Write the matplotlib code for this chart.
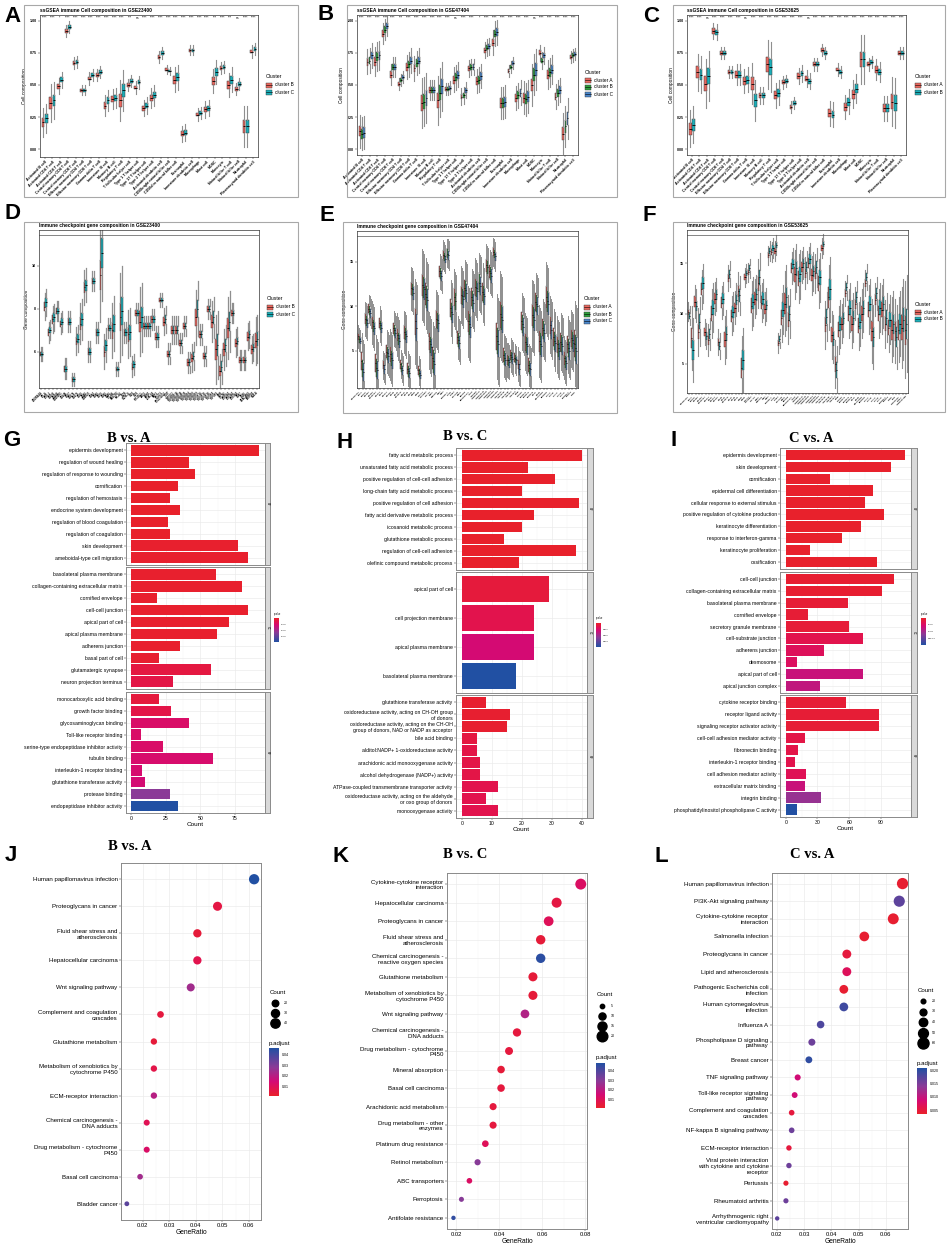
import numpy as np
import matplotlib
matplotlib.use('Agg')
import matplotlib.pyplot as plt
from matplotlib.patches import Rectangle
from matplotlib.colors import LinearSegmentedColormap, Normalize
from matplotlib.cm import ScalarMappable

plt.rcParams['font.family'] = ['Liberation Sans', 'DejaVu Sans']

# ---------------- data: ssGSEA immune cells (A, B, C) ----------------
cells = ['Activated B cell', 'Activated CD4 T cell', 'Activated CD8 T cell',
         'Central memory CD4 T cell', 'Central memory CD8 T cell',
         'Effector memeory CD4 T cell', 'Effector memeory CD8 T cell',
         'Gamma delta T cell', 'Immature  B cell', 'Memory B cell',
         'Regulatory T cell', 'T follicular helper cell', 'Type 1 T helper cell',
         'Type 17 T helper cell', 'Type 2 T helper cell', 'Activated dendritic cell',
         'CD56bright natural killer cell', 'CD56dim natural killer cell', 'Eosinophil',
         'Immature dendritic cell', 'Macrophage', 'Mast cell', 'MDSC', 'Monocyte',
         'Natural killer T cell', 'Natural killer cell', 'Neutrophil',
         'Plasmacytoid dendritic cell']

a_b = [0.21, 0.36, 0.49, 0.92, 0.67, 0.46, 0.55, 0.58, 0.34, 0.39, 0.38, 0.50, 0.48, 0.32,
       0.40, 0.72, 0.62, 0.54, 0.12, 0.77, 0.27, 0.31, 0.53, 0.63, 0.50, 0.47, 0.18, 0.76]
a_c = [0.24, 0.38, 0.54, 0.95, 0.68, 0.46, 0.58, 0.60, 0.38, 0.40, 0.46, 0.53, 0.52, 0.34,
       0.42, 0.75, 0.61, 0.56, 0.13, 0.77, 0.28, 0.32, 0.60, 0.64, 0.54, 0.51, 0.18, 0.78]
a_iqr = [0.07, 0.09, 0.04, 0.03, 0.03, 0.025, 0.03, 0.03, 0.05, 0.05, 0.1, 0.03, 0.03, 0.04,
         0.05, 0.03, 0.02, 0.06, 0.04, 0.025, 0.03, 0.04, 0.06, 0.03, 0.06, 0.03, 0.1, 0.03]
a_sig = ['****', '****', '*', '****', '****', '****', '****', '****', '****', '****', '****',
         '***', 'ns', '****', '****', '****', '****', '****', '****', '****', '****', '****',
         '***', '****', '***', 'ns', '****', '****']

b_a = [0.14, 0.68, 0.68, 0.90, 0.58, 0.51, 0.64, 0.63, 0.36, 0.46, 0.38, 0.47, 0.54, 0.41,
       0.63, 0.53, 0.77, 0.83, 0.36, 0.61, 0.40, 0.40, 0.50, 0.75, 0.58, 0.41, 0.12, 0.72]
b_b = [0.12, 0.69, 0.72, 0.93, 0.64, 0.54, 0.66, 0.67, 0.37, 0.46, 0.44, 0.47, 0.56, 0.42,
       0.64, 0.54, 0.79, 0.90, 0.36, 0.64, 0.42, 0.39, 0.58, 0.69, 0.60, 0.44, 0.18, 0.73]
b_c = [0.13, 0.73, 0.73, 0.96, 0.64, 0.56, 0.69, 0.69, 0.40, 0.46, 0.49, 0.48, 0.58, 0.46,
       0.64, 0.57, 0.80, 0.91, 0.37, 0.67, 0.44, 0.41, 0.62, 0.73, 0.62, 0.46, 0.24, 0.74]
b_iqr = [0.08, 0.06, 0.07, 0.05, 0.05, 0.03, 0.06, 0.06, 0.12, 0.05, 0.12, 0.03, 0.06, 0.04,
         0.04, 0.06, 0.04, 0.06, 0.08, 0.03, 0.06, 0.08, 0.1, 0.04, 0.07, 0.06, 0.1, 0.03]
b_sig = ['****', '****', '****', '****', '****', '***', '****', '****', '****', '****', '****',
         '****', 'ns', '****', '****', '*', '****', '****', '****', '****', '****', '****',
         'ns', '****', '****', '****', '****', '****']

c_a = [0.16, 0.60, 0.51, 0.92, 0.75, 0.60, 0.58, 0.53, 0.51, 0.42, 0.66, 0.42, 0.52, 0.33,
       0.57, 0.55, 0.66, 0.77, 0.28, 0.62, 0.33, 0.43, 0.70, 0.66, 0.62, 0.32, 0.37, 0.75]
c_b = [0.19, 0.58, 0.57, 0.91, 0.75, 0.60, 0.58, 0.54, 0.38, 0.42, 0.64, 0.44, 0.53, 0.36,
       0.59, 0.53, 0.66, 0.75, 0.27, 0.60, 0.37, 0.47, 0.70, 0.68, 0.60, 0.32, 0.36, 0.75]
c_iqr = [0.09, 0.09, 0.12, 0.04, 0.03, 0.03, 0.05, 0.06, 0.1, 0.04, 0.12, 0.06, 0.03, 0.03,
         0.04, 0.04, 0.03, 0.03, 0.06, 0.03, 0.06, 0.07, 0.12, 0.03, 0.05, 0.06, 0.12, 0.03]
c_sig = ['****', '****', 'ns', '****', '****', '****', '****', 'ns', '****', '****', '****',
         '****', '****', '****', '****', 'ns', '****', '****', '****', '****', '****', '****',
         '****', '****', '****', '****', '****', '****']

# ---------------- data: immune checkpoint genes (D, E, F) ----------------
icg_genes = ['ADORA2A', 'BTLA', 'BTNL2', 'CD160', 'CD200', 'CD200R1', 'CD244', 'CD27', 'CD274',
             'CD276', 'CD28', 'CD40', 'CD40LG', 'CD44', 'CD48', 'CD70', 'CD80', 'CD86', 'CTLA4',
             'HAVCR2', 'HHLA2', 'ICOS', 'ICOSLG', 'IDO1', 'IDO2', 'KIR3DL1', 'LAG3', 'LAIR1',
             'LGALS9', 'NRP1', 'PDCD1', 'PDCD1LG2', 'TIGIT', 'TMIGD2', 'TNFRSF14', 'TNFRSF18',
             'TNFRSF25', 'TNFRSF4', 'TNFRSF8', 'TNFRSF9', 'TNFSF14', 'TNFSF15', 'TNFSF18',
             'TNFSF4', 'TNFSF9', 'VSIR', 'VTCN1', 'BTN2A1', 'BTN3A1', 'BTN3A2', 'CD47', 'CD96',
             'CEACAM1', 'ENTPD1', 'HLA-A', 'HLA-B', 'HLA-C', 'HLA-E', 'HLA-G', 'KIR2DL1',
             'KLRC1', 'NT5E', 'PVR', 'SIGLEC15', 'SIRPA', 'TNFRSF13B']

d_b = [5.9, 8.1, 6.9, 7.5, 7.9, 7.3, 5.2, 7.4, 4.7, 6.5, 7.3, 9.0, 6.0, 9.3, 6.9, 9.6, 6.0, 7.1,
       7.0, 5.2, 7.6, 6.9, 6.8, 5.3, 7.8, 7.4, 7.2, 7.2, 7.5, 6.7, 8.4, 7.4, 5.9, 7.0, 7.0, 6.4,
       7.2, 5.5, 5.7, 7.6, 6.8, 5.8, 8.0, 7.4, 6.1, 5.1, 6.1, 7.1, 7.8, 6.4, 5.6, 5.6, 6.7, 6.1, 6.5]
d_c = [5.9, 8.3, 7.0, 7.6, 7.9, 7.4, 5.2, 7.4, 4.7, 6.6, 7.5, 9.1, 6.0, 9.3, 6.9, 10.6, 6.3, 7.1,
       7.3, 5.2, 7.9, 6.9, 6.9, 5.4, 7.8, 7.6, 7.2, 7.2, 7.5, 6.7, 8.4, 7.5, 5.9, 7.0, 7.0, 6.4,
       7.2, 5.5, 5.8, 8.0, 6.8, 5.8, 8.0, 7.6, 6.3, 5.3, 6.3, 7.4, 7.8, 6.5, 5.6, 5.6, 6.8, 6.2, 6.6]
d_iqr = [0.2, 0.4, 0.3, 0.4, 0.3, 0.3, 0.3, 0.3, 0.2, 0.4, 0.6, 0.5, 0.3, 0.3, 0.3, 1.4, 0.5, 0.3,
         0.8, 0.2, 1.3, 0.3, 0.7, 0.3, 0.3, 1.0, 0.3, 0.3, 0.3, 0.3, 0.2, 0.4, 0.3, 0.4, 0.4, 0.3,
         0.3, 0.3, 0.4, 0.8, 0.3, 0.3, 0.3, 0.6, 1.0, 0.5, 0.6, 0.9, 0.3, 0.4, 0.3, 0.3, 0.4, 0.4, 0.7]

e_a = [6.6, 3.8, 8.6, 9.7, 8.2, 3.6, 8.1, 3.4, 4.9, 4.6, 7.5, 6.8, 3.5, 7.1, 3.0, 12.0, 8.3, 2.8,
       12.4, 11.4, 6.1, 4.2, 8.6, 13.9, 15.8, 16.0, 9.8, 11.0, 6.5, 11.3, 12.0, 8.3, 11.0, 12.2,
       12.8, 11.6, 14.6, 13.9, 16.1, 6.6, 9.1, 4.5, 4.0, 4.5, 4.2, 3.5, 8.3, 6.0, 3.4, 9.0, 10.5,
       6.1, 7.6, 11.0, 7.9, 6.5, 5.7, 6.0, 4.2, 5.7, 6.4, 5.8]
e_b = [6.3, 3.0, 8.4, 9.5, 7.8, 3.1, 7.9, 3.1, 4.7, 4.2, 7.3, 6.4, 3.1, 6.9, 2.7, 11.9, 7.9, 2.5,
       12.2, 11.0, 5.7, 3.8, 8.4, 13.7, 15.6, 15.9, 9.4, 10.6, 6.2, 11.1, 11.8, 8.0, 10.7, 12.0,
       12.6, 11.4, 14.4, 13.7, 15.9, 6.1, 8.8, 4.2, 3.9, 4.3, 4.1, 3.1, 8.0, 5.7, 3.1, 8.8, 10.3,
       5.8, 7.3, 10.6, 7.6, 6.1, 5.3, 5.8, 3.8, 5.3, 6.2, 5.3]
e_c = [6.1, 2.6, 8.1, 9.2, 7.5, 2.8, 7.6, 2.9, 4.4, 3.9, 7.0, 6.1, 2.8, 6.6, 2.5, 11.5, 7.6, 2.3,
       11.9, 10.7, 5.4, 3.5, 8.1, 13.4, 15.3, 15.7, 9.1, 10.3, 5.9, 10.8, 11.5, 7.7, 10.4, 11.7,
       12.3, 11.1, 14.1, 13.4, 15.6, 5.8, 8.5, 4.0, 3.7, 4.1, 3.9, 2.9, 7.7, 5.5, 2.9, 8.5, 10.0,
       5.5, 7.0, 10.3, 7.3, 5.9, 5.0, 5.5, 3.6, 5.0, 5.9, 5.0]
e_iqr = [0.8, 2.0, 1.2, 1.0, 1.5, 2.0, 1.2, 1.0, 1.5, 1.8, 1.2, 1.5, 1.0, 1.5, 1.2, 1.5, 3.0, 1.0,
         2.5, 2.5, 2.0, 2.5, 2.0, 1.2, 1.0, 1.0, 2.0, 2.0, 1.5, 2.0, 2.0, 2.5, 2.0, 2.0, 2.0, 2.0,
         1.5, 1.5, 1.0, 3.0, 3.0, 1.5, 1.2, 1.2, 1.0, 1.2, 2.0, 2.0, 1.5, 2.5, 2.0, 2.5, 2.0, 2.5,
         2.0, 2.0, 2.0, 2.0, 1.5, 2.0, 2.0, 3.0]

f_a = [10.2, 7.6, 11.2, 8.2, 12.4, 8.2, 7.4, 10.0, 11.5, 7.2, 11.1, 7.4, 13.5, 9.8, 10.6, 12.2,
       4.6, 13.6, 14.1, 10.8, 11.5, 13.0, 11.1, 10.5, 15.8, 16.1, 16.2, 7.1, 9.6, 11.0, 9.4, 14.5,
       13.9, 13.5, 14.6, 14.0, 15.0, 13.8, 14.0, 13.0, 16.5, 8.9, 11.6, 7.9, 5.0, 8.4, 9.0, 12.0,
       10.0, 9.0, 11.0, 8.8, 10.0, 13.0, 10.4, 8.3, 11.4, 10.0, 10.4, 9.0, 8.6, 8.4, 8.3, 8.4, 8.6, 8.4]
f_b = [9.8, 6.4, 10.8, 9.2, 13.0, 7.8, 8.0, 10.6, 11.9, 6.8, 11.5, 8.0, 13.9, 10.2, 11.4, 11.8,
       5.4, 14.0, 14.5, 11.2, 11.9, 13.6, 11.5, 10.9, 16.2, 16.5, 16.8, 7.5, 10.4, 11.6, 10.0, 14.9,
       14.5, 13.9, 15.0, 14.6, 15.4, 14.2, 14.6, 13.6, 16.9, 9.7, 12.4, 7.5, 4.4, 9.0, 9.6, 12.6,
       10.6, 9.6, 11.6, 9.2, 10.6, 13.6, 11.0, 7.7, 12.0, 10.6, 11.0, 9.6, 9.4, 9.0, 7.7, 9.0, 9.4, 9.0]
f_iqr = [0.6, 2.0, 1.0, 1.5, 1.2, 0.8, 1.0, 1.5, 1.0, 0.8, 1.0, 1.5, 0.8, 1.2, 1.0, 1.2, 2.0, 0.6,
         0.6, 1.5, 1.2, 1.5, 1.2, 1.0, 0.6, 0.6, 0.6, 0.6, 1.5, 2.0, 1.5, 1.0, 1.5, 1.5, 1.0, 1.0,
         1.0, 1.2, 1.2, 1.5, 0.6, 1.5, 2.0, 1.5, 1.5, 1.5, 1.2, 0.8, 1.5, 1.5, 1.0, 1.5, 1.5, 0.8,
         1.5, 2.0, 1.0, 1.5, 1.5, 1.5, 1.5, 2.0, 2.0, 2.0, 2.5, 3.0]

# ---------------- data: GO enrichment (G, H, I) ----------------
g_terms = ['epidermis development', 'regulation of wound healing', 'regulation of response to wounding',
           'cornification', 'regulation of hemostasis', 'endocrine system development',
           'regulation of blood coagulation', 'regulation of coagulation', 'skin development',
           'ameboidal-type cell migration',
           'basolateral plasma membrane', 'collagen-containing extracellular matrix', 'cornified envelope',
           'cell-cell junction', 'apical part of cell', 'apical plasma membrane', 'adherens junction',
           'basal part of cell', 'glutamatergic synapse', 'neuron projection terminus',
           'monocarboxylic acid binding', 'growth factor binding', 'glycosaminoglycan binding',
           'Toll-like receptor binding', 'serine-type endopeptidase inhibitor activity', 'tubulin binding',
           'interleukin-1 receptor binding', 'glutathione transferase activity', 'protease binding',
           'endopeptidase inhibitor activity']
g_count = [92, 42, 46, 34, 28, 35, 27, 28, 77, 84,
           61, 80, 19, 84, 71, 62, 35, 20, 58, 30,
           20, 29, 42, 7, 23, 59, 8, 10, 28, 34]
g_pval = [1e-9, 1e-9, 1e-9, 1e-9, 1e-9, 1e-9, 1e-9, 1e-9, 5e-7, 5e-7,
          5e-7, 5e-7, 5e-7, 5e-7, 5e-7, 5e-7, 5e-7, 1e-6, 3.8e-6, 4.6e-6,
          3e-6, 4.9e-6, 9.5e-6, 9.5e-6, 9.5e-6, 1.03e-5, 1.06e-5, 1.14e-5, 2.28e-5, 3.8e-5]
g_sizes = [10, 10, 10]

h_terms = ['fatty acid metabolic process', 'unsaturated fatty acid metabolic process',
           'positive regulation of cell-cell adhesion', 'long-chain fatty acid metabolic process',
           'positive regulation of cell adhesion', 'fatty acid derivative metabolic process',
           'icosanoid metabolic process', 'glutathione metabolic process',
           'regulation of cell-cell adhesion', 'olefinic compound metabolic process',
           'apical part of cell', 'cell projection membrane', 'apical plasma membrane',
           'basolateral plasma membrane',
           'glutathione transferase activity',
           'oxidoreductase activity, acting on CH-OH group\nof donors',
           'oxidoreductase activity, acting on the CH-OH\ngroup of donors, NAD or NADP as acceptor',
           'bile acid binding', 'alditol:NADP+ 1-oxidoreductase activity',
           'arachidonic acid monooxygenase activity', 'alcohol dehydrogenase (NADP+) activity',
           'ATPase-coupled transmembrane transporter activity',
           'oxidoreductase activity, acting on the aldehyde\nor oxo group of donors',
           'monooxygenase activity']
h_count = [40, 22, 31, 20, 39, 24, 20, 14, 38, 19,
           29, 24, 24, 18,
           8, 16, 15, 5, 5, 6, 6, 12, 8, 12]
h_pval = [1e-5, 1e-5, 1e-5, 1e-5, 1e-5, 1e-5, 1e-5, 1e-5, 1e-5, 1e-5,
          3e-4, 6e-4, 1.2e-3, 4e-3,
          1e-4, 1e-4, 1e-4, 4e-4, 5e-4, 5e-4, 5e-4, 6e-4, 6e-4, 6e-4]
h_sizes = [10, 4, 10]

i_terms = ['epidermis development', 'skin development', 'cornification',
           'epidermal cell differentiation', 'cellular response to external stimulus',
           'positive regulation of cytokine production', 'keratinocyte differentiation',
           'response to interferon-gamma', 'keratinocyte proliferation', 'ossification',
           'cell-cell junction', 'collagen-containing extracellular matrix',
           'basolateral plasma membrane', 'cornified envelope', 'secretory granule membrane',
           'cell-substrate junction', 'adherens junction', 'desmosome', 'apical part of cell',
           'apical junction complex',
           'cytokine receptor binding', 'receptor ligand activity',
           'signaling receptor activator activity', 'cell-cell adhesion mediator activity',
           'fibronectin binding', 'interleukin-1 receptor binding', 'cell adhesion mediator activity',
           'extracellular matrix binding', 'integrin binding',
           'phosphatidylinositol phospholipase C activity']
i_count = [113, 99, 42, 82, 75, 93, 71, 53, 23, 86,
           102, 91, 59, 21, 60, 73, 36, 11, 73, 32,
           57, 88, 88, 18, 12, 9, 19, 18, 33, 11]
i_pval = [1e-6, 1e-6, 1e-6, 1e-6, 1e-6, 1e-6, 1e-6, 1e-6, 1e-6, 1e-6,
          6e-6, 6e-6, 1e-5, 1e-5, 1.2e-5, 3e-5, 4e-5, 4.4e-5, 7e-5, 7.6e-5,
          1e-5, 1e-5, 1e-5, 2.4e-5, 2.6e-5, 3e-5, 3.6e-5, 7e-5, 1.1e-4, 2e-4]
i_sizes = [10, 10, 10]

# ---------------- data: KEGG enrichment (J, K, L) ----------------
j_terms = ['Human papillomavirus infection', 'Proteoglycans in cancer',
           'Fluid shear stress and\natherosclerosis', 'Hepatocellular carcinoma',
           'Wnt signaling pathway', 'Complement and coagulation\ncascades', 'Glutathione metabolism',
           'Metabolism of xenobiotics by\ncytochrome P450', 'ECM-receptor interaction',
           'Chemical carcinogenesis -\nDNA adducts', 'Drug metabolism - cytochrome\nP450',
           'Basal cell carcinoma', 'Bladder cancer']
j_ratio = [0.0620, 0.0482, 0.0406, 0.0406, 0.0381, 0.0267, 0.0242, 0.0242, 0.0242, 0.0215,
           0.0215, 0.0190, 0.0140]
j_count = [49, 38, 32, 32, 30, 21, 19, 19, 19, 17, 17, 15, 11]
j_padj = [0.046, 0.006, 0.004, 0.008, 0.024, 0.005, 0.004, 0.007, 0.020, 0.009, 0.012, 0.024, 0.036]

k_terms = ['Cytokine-cytokine receptor\ninteraction', 'Hepatocellular carcinoma',
           'Proteoglycans in cancer', 'Fluid shear stress and\natherosclerosis',
           'Chemical carcinogenesis -\nreactive oxygen species', 'Glutathione metabolism',
           'Metabolism of xenobiotics by\ncytochrome P450', 'Wnt signaling pathway',
           'Chemical carcinogenesis -\nDNA adducts', 'Drug metabolism - cytochrome\nP450',
           'Mineral absorption', 'Basal cell carcinoma', 'Arachidonic acid metabolism',
           'Drug metabolism - other\nenzymes', 'Platinum drug resistance', 'Retinol metabolism',
           'ABC transporters', 'Ferroptosis', 'Antifolate resistance']
k_ratio = [0.0779, 0.0667, 0.0630, 0.0593, 0.0593, 0.0557, 0.0557, 0.0520, 0.0483, 0.0446,
           0.0409, 0.0409, 0.0372, 0.0372, 0.0336, 0.0300, 0.0262, 0.0225, 0.0188]
k_count = [21, 18, 17, 16, 16, 15, 15, 14, 13, 12, 11, 11, 10, 10, 9, 8, 7, 6, 5]
k_padj = [0.012, 0.006, 0.010, 0.004, 0.046, 0.004, 0.004, 0.022, 0.005, 0.005, 0.004, 0.005,
          0.005, 0.005, 0.010, 0.030, 0.012, 0.030, 0.045]

l_terms = ['Human papillomavirus infection', 'PI3K-Akt signaling pathway',
           'Cytokine-cytokine receptor\ninteraction', 'Salmonella infection',
           'Proteoglycans in cancer', 'Lipid and atherosclerosis',
           'Pathogenic Escherichia coli\ninfection', 'Human cytomegalovirus\ninfection',
           'Influenza A', 'Phospholipase D signaling\npathway', 'Breast cancer',
           'TNF signaling pathway', 'Toll-like receptor signaling\npathway',
           'Complement and coagulation\ncascades', 'NF-kappa B signaling pathway',
           'ECM-receptor interaction', 'Viral protein interaction\nwith cytokine and cytokine\nreceptor',
           'Pertussis', 'Rheumatoid arthritis', 'Arrhythmogenic right\nventricular cardiomyopathy']
l_ratio = [0.0661, 0.0649, 0.0627, 0.0521, 0.0457, 0.0457, 0.0446, 0.0446, 0.0361, 0.0329,
           0.0318, 0.0277, 0.0266, 0.0255, 0.0255, 0.0245, 0.0245, 0.0234, 0.0234, 0.0202]
l_count = [62, 61, 59, 49, 43, 43, 42, 42, 34, 31, 30, 26, 25, 24, 24, 23, 23, 22, 22, 19]
l_padj = [0.004, 0.017, 0.004, 0.004, 0.005, 0.007, 0.004, 0.019, 0.018, 0.016, 0.020, 0.009,
          0.009, 0.005, 0.016, 0.005, 0.016, 0.004, 0.016, 0.017]

# ---------------- figure ----------------
W, H = 948, 1247
fig = plt.figure(figsize=(W / 100, H / 100), dpi=100)
cmap = LinearSegmentedColormap.from_list(
    'pv', [(0, '#E8212B'), (0.15, '#E2134D'), (0.3, '#D40A74'), (0.6, '#8B3A97'), (1, '#2150A3')])
col2 = ['#E8685F', '#1BAEB8']
col3 = ['#E8685F', '#2E9E3E', '#4B87CB']

# overlay axes in pixel coordinates for letters, frames and legends
ov = fig.add_axes([0, 0, 1, 1], zorder=10)
ov.set_xlim(0, W)
ov.set_ylim(H, 0)
ov.axis('off')


def px_ax(x0, y0, x1, y1):
    return fig.add_axes([x0 / W, 1 - y1 / H, (x1 - x0) / W, (y1 - y0) / H])


def frame(x0, y0, x1, y1):
    ov.add_patch(Rectangle((x0, y0), x1 - x0, y1 - y0, fill=False, edgecolor='#a8a8a8', lw=0.8))


def cluster_legend(x, y, labels, colors):
    ov.text(x, y, 'Cluster', fontsize=3.7, va='center')
    for i, (lab, col) in enumerate(zip(labels, colors)):
        yy = y + 8 + i * 7
        ov.add_patch(Rectangle((x, yy - 2.5), 6, 5, facecolor=col, edgecolor='#333333', lw=0.3))
        ov.plot([x, x + 6], [yy, yy], color='black', lw=0.4)
        ov.text(x + 9, yy, lab, fontsize=3.4, va='center')


def box_panel(box, names, series, iqrs, colors, ylim, yticks, yfmt, title, ylabel,
              sig=None, sig_y=None, line_y=None, xfs=2.6, wfrac=0.9, wl=0.8):
    ax = px_ax(*box)
    n = len(series)
    step = 0.8 / n
    idx = np.arange(len(names))
    for k, (vals, col) in enumerate(zip(series, colors)):
        stats = [dict(med=m, q1=m - q / 2, q3=m + q / 2, whislo=m - 1.6 * q, whishi=m + 1.6 * q)
                 for m, q in zip(vals, iqrs)]
        ax.bxp(stats, positions=idx + (k - (n - 1) / 2) * step, widths=step * wfrac,
               patch_artist=True, showfliers=False, showcaps=False, manage_ticks=False,
               boxprops=dict(facecolor=col, edgecolor='#3a3a3a', linewidth=0.35),
               medianprops=dict(color='black', linewidth=0.6),
               whiskerprops=dict(color='#8f8f8f', linewidth=wl))
    ax.set_xlim(-0.6, len(names) - 0.4)
    ax.set_ylim(*ylim)
    ax.set_yticks(yticks)
    ax.set_yticklabels([yfmt.format(v) for v in yticks], fontsize=2.6, fontweight='bold')
    ax.set_xticks(idx)
    ax.set_xticklabels(names, rotation=45, ha='right', rotation_mode='anchor',
                       fontsize=xfs, fontweight='bold')
    ax.tick_params(length=1.2, width=0.35, pad=0.8, color='#333333')
    for s in ax.spines.values():
        s.set_linewidth(0.5)
        s.set_color('#333333')
    ax.set_ylabel(ylabel, fontsize=3.4, labelpad=2)
    ax.text(0, 1.012, title, transform=ax.transAxes, fontsize=3.5, fontweight='bold', va='bottom')
    if sig is not None:
        for i, s in enumerate(sig):
            ax.text(i, sig_y, s, ha='center', va='center', fontsize=2.4)
    if line_y is not None:
        ax.plot([-0.5, len(names) - 0.5], [line_y, line_y], color='#555555', lw=0.5)
    return ax


def go_panel(x0, x1, sx1, ys, sizes, terms, counts, pvals, vmax, xlim, xticks, cbox, cticks, clabs):
    norm = Normalize(0, vmax)
    start = 0
    for j, ((y0, y1), n, tag) in enumerate(zip(ys, sizes, ['BP', 'CC', 'MF'])):
        ax = px_ax(x0, y0, x1, y1)
        t = terms[start:start + n]
        c = counts[start:start + n]
        p = np.array(pvals[start:start + n])
        start += n
        ypos = np.arange(n)[::-1]
        ax.barh(ypos, c, height=0.9, color=cmap(norm(p)), zorder=2)
        ax.set_ylim(-0.6, n - 0.4)
        ax.set_xlim(*xlim)
        ax.set_yticks(ypos)
        ax.set_yticklabels(t, fontsize=3.7)
        ax.set_xticks(xticks)
        ax.set_xticks([(a + b) / 2 for a, b in zip(xticks[:-1], xticks[1:])], minor=True)
        ax.set_axisbelow(True)
        ax.grid(True, which='major', color='#EBEBEB', lw=0.5)
        ax.grid(True, which='minor', axis='x', color='#F3F3F3', lw=0.3)
        ax.tick_params(length=1.4, width=0.35, pad=1, color='#333333', labelsize=3.7)
        ax.tick_params(which='minor', length=0)
        if j < 2:
            ax.tick_params(axis='x', labelbottom=False, length=0)
        else:
            ax.set_xlabel('Count', fontsize=4.6, labelpad=0.5)
        for s in ax.spines.values():
            s.set_linewidth(0.7)
            s.set_color('#8a8a8a')
        st = px_ax(x1, y0, sx1, y1)
        st.set_facecolor('#D9D9D9')
        st.set_xticks([])
        st.set_yticks([])
        for s in st.spines.values():
            s.set_linewidth(0.7)
            s.set_color('#8a8a8a')
        st.text(0.5, 0.5, tag, rotation=-90, fontsize=1.8, ha='center', va='center',
                transform=st.transAxes)
    cax = px_ax(*cbox)
    cb = fig.colorbar(ScalarMappable(norm=norm, cmap=cmap), cax=cax)
    cb.outline.set_visible(False)
    cax.invert_yaxis()
    cb.set_ticks(cticks)
    cb.set_ticklabels(clabs)
    cax.tick_params(labelsize=1.6, length=1, width=0.3, pad=0.5, color='white')
    ov.text(cbox[0], cbox[1] - 2.5, 'pvalue', fontsize=1.8, va='bottom')


def dot_panel(box, terms, ratio, count, padj, xlim, xticks, xfmt, norm, s_rng,
              leg_x, leg_y, leg_counts, leg_dy, cbox, cticks, cfmt):
    ax = px_ax(*box)
    n = len(terms)
    ypos = np.arange(n)[::-1]
    cmin, cmax = min(count), max(count)

    def s_of(c):
        return s_rng[0] + (np.asarray(c, float) - cmin) / (cmax - cmin) * (s_rng[1] - s_rng[0])

    ax.scatter(ratio, ypos, s=s_of(count), c=padj, cmap=cmap, norm=norm, zorder=3,
               edgecolors='none')
    ax.set_ylim(-0.6, n - 0.4)
    ax.set_xlim(*xlim)
    ax.set_yticks(ypos)
    ax.set_yticklabels(terms, fontsize=4.4)
    ax.set_xticks(xticks)
    ax.set_xticklabels([xfmt.format(v) for v in xticks])
    ax.set_xticks([(a + b) / 2 for a, b in zip(xticks[:-1], xticks[1:])], minor=True)
    ax.set_axisbelow(True)
    ax.grid(True, which='major', color='#EBEBEB', lw=0.5)
    ax.grid(True, which='minor', axis='x', color='#F3F3F3', lw=0.3)
    ax.tick_params(length=1.5, width=0.35, pad=1, color='#333333', labelsize=4.4)
    ax.tick_params(which='minor', length=0)
    ax.tick_params(axis='x', labelsize=4.2)
    ax.set_xlabel('GeneRatio', fontsize=4.8, labelpad=0.5)
    for s in ax.spines.values():
        s.set_linewidth(0.7)
        s.set_color('#8a8a8a')
    # count legend
    ov.text(leg_x - 5, leg_y, 'Count', fontsize=4.4, va='center')
    for i, c in enumerate(leg_counts):
        yy = leg_y + 11 + i * leg_dy
        ov.scatter([leg_x], [yy], s=s_of([c]), color='black', clip_on=False)
        ov.text(leg_x + 9, yy, str(c), fontsize=2.6, va='center')
    # p.adjust colorbar
    cax = px_ax(*cbox)
    cb = fig.colorbar(ScalarMappable(norm=norm, cmap=cmap), cax=cax)
    cb.outline.set_visible(False)
    cb.set_ticks(cticks)
    cb.set_ticklabels([cfmt.format(v) for v in cticks])
    cax.tick_params(labelsize=2.6, length=1.2, width=0.3, pad=1, color='white')
    ov.text(cbox[0], cbox[1] - 2.5, 'p.adjust', fontsize=4.4, va='bottom')


# ---- row 1: ssGSEA ----
frame(24, 5, 298, 197)
box_panel((40, 15, 258, 157), cells, [a_b, a_c], a_iqr, col2, (-0.06, 1.044),
          [0, 0.25, 0.5, 0.75, 1.0], '{:.2f}', 'ssGSEA immune Cell composition in GSE23400',
          'Cell composition', sig=a_sig, sig_y=1.022)
cluster_legend(266, 77, ['cluster B', 'cluster C'], col2)

frame(347, 5, 617, 197)
box_panel((357, 15, 578, 155), cells, [b_a, b_b, b_c], b_iqr, col3, (-0.044, 1.044),
          [0, 0.25, 0.5, 0.75, 1.0], '{:.2f}', 'ssGSEA immune Cell composition in GSE47404',
          'Cell composition', sig=b_sig, sig_y=1.022)
cluster_legend(585, 72, ['cluster A', 'cluster B', 'cluster C'], col3)

frame(673, 5, 945, 197)
box_panel((687, 15, 906, 155), cells, [c_a, c_b], c_iqr, col2, (-0.044, 1.044),
          [0, 0.25, 0.5, 0.75, 1.0], '{:.2f}', 'ssGSEA immune Cell composition in GSE53625',
          'Cell composition', sig=c_sig, sig_y=1.022)
cluster_legend(915, 77, ['cluster A', 'cluster B'], col2)

# ---- row 2: immune checkpoint genes ----
frame(24, 222, 298, 412)
box_panel((39, 230, 259, 388), icg_genes[:len(d_b)], [d_b, d_c], d_iqr, col2, (4.3, 11.68),
          [6, 8, 10], '{:d}', 'Immune checkpoint gene composition in GSE23400',
          'Gene composition', line_y=11.45, xfs=1.9, wfrac=0.95, wl=0.9)
cluster_legend(267, 299, ['cluster B', 'cluster C'], col2)

frame(343, 222, 617, 413)
box_panel((357, 231, 578, 388), icg_genes[:len(e_a)], [e_a, e_b, e_c], e_iqr, col3, (0.81, 18.45),
          [5, 10, 15], '{:d}', 'Immune checkpoint gene composition in GSE47404',
          'Gene composition', line_y=17.9, xfs=1.7, wfrac=1.0, wl=0.7)
cluster_legend(584, 299, ['cluster A', 'cluster B', 'cluster C'], col3)

frame(673, 222, 945, 412)
box_panel((687, 230, 908, 393), icg_genes[:len(f_a)], [f_a, f_b], f_iqr, col2, (2.12, 18.3),
          [5, 10, 15], '{:d}', 'Immune checkpoint gene composition in GSE53625',
          'Gene composition', line_y=17.8, xfs=1.7, wfrac=1.0, wl=0.8)
cluster_legend(915, 304, ['cluster A', 'cluster B'], col2)

# ---- row 3: GO bar charts ----
go_panel(126, 265, 270, [(443, 565), (567, 689), (692, 813)], g_sizes, g_terms, g_count, g_pval,
         3.8e-5, (-3.6, 96.6), [0, 25, 50, 75], (274, 618, 279, 642),
         [1e-5, 2e-5, 3e-5], ['1e-05', '2e-05', '3e-05'])
go_panel(456, 587, 593, [(448, 570), (572, 693), (695, 818)], h_sizes, h_terms, h_count, h_pval,
         4e-3, (-1.9, 41.8), [0, 10, 20, 30, 40], (596, 623, 601, 647),
         [1e-3, 2e-3, 3e-3], ['0.001', '0.002', '0.003'])
go_panel(780, 911, 917, [(448, 569), (572, 693), (695, 817)], i_sizes, i_terms, i_count, i_pval,
         2e-4, (-5.4, 118.3), [0, 30, 60, 90], (921, 618, 926, 645),
         [5e-5, 1e-4, 1.5e-4], ['5e-05', '1e-04', '1.5e-04'])

# ---- row 4: KEGG dot plots ----
dot_panel((121, 863, 261, 1220), j_terms, j_ratio, j_count, j_padj, (0.0118, 0.0646),
          [0.02, 0.03, 0.04, 0.05, 0.06], '{:.2f}', Normalize(0.001, 0.046), (12, 55),
          275, 992, [20, 30, 40], 10, (269, 1048, 279, 1096), [0.01, 0.02, 0.03, 0.04], '{:.2f}')
dot_panel((447, 873, 587, 1229), k_terms, k_ratio, k_count, k_padj, (0.0158, 0.0808),
          [0.02, 0.04, 0.06, 0.08], '{:.2f}', Normalize(0.001, 0.048), (10, 62),
          602, 995, [5, 10, 15, 20], 10, (596, 1063, 605, 1108), [0.01, 0.02, 0.03, 0.04], '{:.2f}')
dot_panel((772, 873, 908, 1229), l_terms, l_ratio, l_count, l_padj, (0.0183, 0.0681),
          [0.02, 0.03, 0.04, 0.05, 0.06], '{:.2f}', Normalize(0.0035, 0.021), (10, 66),
          923, 990, [20, 30, 40, 50, 60], 10.5, (917, 1068, 927, 1114),
          [0.005, 0.010, 0.015, 0.020], '{:.3f}')

# ---- panel letters and comparison titles ----
for lab, x, y in [('A', 4, 6), ('B', 318, 4), ('C', 643, 6), ('D', 4, 203), ('E', 320, 205),
                  ('F', 643, 205), ('G', 3, 430), ('H', 337, 432), ('I', 671, 430),
                  ('J', 5, 845), ('K', 333, 846), ('L', 655, 846)]:
    ov.text(x, y, lab, fontsize=16, fontweight='bold', va='top', ha='left')

for s, x, y in [('B vs. A', 129, 438), ('B vs. C', 465, 437), ('C vs. A', 811, 438),
                ('B vs. A', 130, 847), ('B vs. C', 465, 855), ('C vs. A', 812, 855)]:
    ov.text(x, y, s, fontsize=10.5, fontweight='bold', ha='center', va='center',
            family=['Liberation Serif', 'DejaVu Serif'])

fig.savefig('out.png', dpi=100)
